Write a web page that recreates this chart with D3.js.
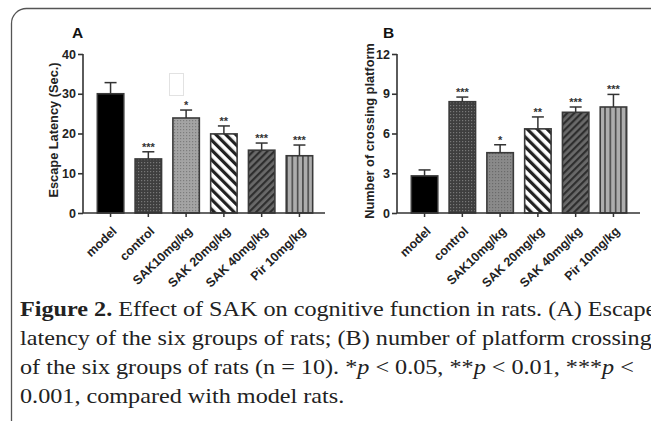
<!DOCTYPE html>
<html>
<head>
<meta charset="utf-8">
<script src="https://cdn.jsdelivr.net/npm/d3@7"></script>
<style>
  body { margin: 0; background: #fff; }
  svg { display: block; }
  .axis text { font-family: Arial, "Liberation Sans", sans-serif; font-weight: bold; fill: #222; }
</style>
</head>
<body>
<svg id="fig" width="651" height="421"></svg>
<script>
// Groups shared by both panels
const groups = ["model", "control", "SAK10mg/kg", "SAK 20mg/kg", "SAK 40mg/kg", "Pir 10mg/kg"];

// Panel A: escape latency (sec.)
const latencyMean = [30, 13.6, 23.9, 19.9, 15.8, 14.4];
const latencyErr = [2.8, 1.8, 2.0, 2.0, 1.8, 2.7];
const latencySig = ["", "***", "*", "**", "***", "***"];
const latencyTicks = [0, 10, 20, 30, 40];

// Panel B: number of platform crossings
const crossMean = [2.8, 8.4, 4.55, 6.35, 7.6, 8.0];
const crossErr = [0.45, 0.35, 0.6, 0.9, 0.4, 0.95];
const crossSig = ["", "***", "*", "**", "***", "***"];
const crossTicks = [0, 3, 6, 9, 12];

const captionLines = [
    [["Figure 2.", true], [" Effect of SAK on cognitive function in rats. (A) Escape", false]],
    [["latency of the six groups of rats; (B) number of platform crossings", false]],
    [["of the six groups of rats (n = 10). *", false], ["p", "i"], [" < 0.05, **", false], ["p", "i"], [" < 0.01, ***", false], ["p", "i"], [" <", false]],
    [["0.001, compared with model rats.", false]]
];

const svg = d3.select('#fig');
svg.append('rect').attr('width', 651).attr('height', 421).attr('fill', '#fff');

// Frame round the figure
svg.append('rect')
    .attr('x', 11.5).attr('y', 8.5)
    .attr('width', 700).attr('height', 440)
    .attr('rx', 15)
    .attr('fill', 'none')
    .attr('stroke', '#555')
    .attr('stroke-width', 1.3);

// Fill patterns
const defs = svg.append('defs');

function dotPattern(id, base, dot) {
    const p = defs.append('pattern').attr('id', id)
        .attr('patternUnits', 'userSpaceOnUse').attr('width', 3).attr('height', 3);
    p.append('rect').attr('width', 3).attr('height', 3).attr('fill', base);
    p.append('rect').attr('x', 0).attr('y', 0).attr('width', 1.2).attr('height', 1.2).attr('fill', dot);
}
function stripePattern(id, base, line, size, lw, angle) {
    const p = defs.append('pattern').attr('id', id)
        .attr('patternUnits', 'userSpaceOnUse').attr('width', size).attr('height', size)
        .attr('patternTransform', `rotate(${angle})`);
    p.append('rect').attr('width', size).attr('height', size).attr('fill', base);
    p.append('rect').attr('x', 0).attr('y', 0).attr('width', lw).attr('height', size).attr('fill', line);
}
dotPattern('dotsDark', '#3e3e3e', '#777');
dotPattern('dotsLightA', '#a4a4a4', '#7d7d7d');
dotPattern('dotsLightB', '#8a8a8a', '#6a6a6a');
stripePattern('diagBack', '#fff', '#222', 7, 3.2, -45);
stripePattern('diagFwd', '#6a6a6a', '#2e2e2e', 5, 2.2, 45);
stripePattern('vert', '#adadad', '#4a4a4a', 5.3, 1.6, 0);

const fillsA = ['#000', 'url(#dotsDark)', 'url(#dotsLightA)', 'url(#diagBack)', 'url(#diagFwd)', 'url(#vert)'];
const fillsB = ['#000', 'url(#dotsDark)', 'url(#dotsLightB)', 'url(#diagBack)', 'url(#diagFwd)', 'url(#vert)'];

function drawPanel(opt) {
    const g = svg.append('g');
    const x = d3.scaleBand().domain(groups).range(opt.xRange).paddingInner(0.3).paddingOuter(0.3);
    const y = d3.scaleLinear().domain([0, opt.ticks[opt.ticks.length - 1]]).range([213, 54]);

    const rows = groups.map((name, i) => ({ name, mean: opt.mean[i], err: opt.err[i], sig: opt.sig[i], fill: opt.fills[i] }));

    // bars
    g.selectAll('rect.bar').data(rows).enter().append('rect')
        .attr('class', 'bar')
        .attr('x', d => x(d.name))
        .attr('y', d => y(d.mean))
        .attr('width', x.bandwidth())
        .attr('height', d => y(0) - y(d.mean))
        .attr('fill', d => d.fill)
        .attr('stroke', '#3a3a3a')
        .attr('stroke-width', 1.6);

    // error bars
    const cx = d => x(d.name) + x.bandwidth() / 2;
    g.selectAll('line.err').data(rows).enter().append('line')
        .attr('x1', cx).attr('x2', cx)
        .attr('y1', d => y(d.mean)).attr('y2', d => y(d.mean + d.err))
        .attr('stroke', '#333').attr('stroke-width', 1.5);
    g.selectAll('line.cap').data(rows).enter().append('line')
        .attr('x1', d => cx(d) - 6).attr('x2', d => cx(d) + 6)
        .attr('y1', d => y(d.mean + d.err)).attr('y2', d => y(d.mean + d.err))
        .attr('stroke', '#333').attr('stroke-width', 1.5);

    // significance stars
    g.selectAll('text.sig').data(rows).enter().append('text')
        .attr('x', cx)
        .attr('y', d => y(d.mean + d.err) - 1)
        .attr('text-anchor', 'middle')
        .attr('font-family', 'Arial, sans-serif')
        .attr('font-weight', 'bold')
        .attr('font-size', 11)
        .attr('fill', '#333')
        .text(d => d.sig);

    // y axis
    const yAxis = g.append('g').attr('class', 'axis')
        .attr('transform', `translate(${opt.axisX},0)`)
        .call(d3.axisLeft(y).tickValues(opt.ticks).tickSize(5).tickPadding(2));
    yAxis.select('.domain').attr('stroke', '#333').attr('stroke-width', 1.6).attr('d', `M0,${y(opt.ticks[opt.ticks.length - 1])}V${y(0)}`);
    yAxis.selectAll('.tick line').attr('stroke', '#333').attr('stroke-width', 1.6);
    yAxis.selectAll('.tick text').attr('font-size', 12.5);

    // x axis
    const xAxis = g.append('g').attr('class', 'axis')
        .attr('transform', `translate(0,${y(0)})`)
        .call(d3.axisBottom(x).tickSize(4));
    xAxis.select('.domain').attr('stroke', '#333').attr('stroke-width', 1.6)
        .attr('d', `M${opt.axisX},0H${opt.axisEnd}`);
    xAxis.selectAll('.tick line').attr('stroke', '#333').attr('stroke-width', 1.5);
    xAxis.selectAll('.tick text')
        .attr('font-size', 12.5)
        .attr('text-anchor', 'end')
        .attr('x', 0).attr('y', 0).attr('dy', 0)
        .attr('transform', 'translate(7,19) rotate(-44)');

    // y label
    g.append('text')
        .attr('transform', `translate(${opt.labelX},${opt.labelY}) rotate(-90)`)
        .attr('text-anchor', 'middle')
        .attr('font-family', 'Arial, sans-serif')
        .attr('font-weight', 'bold')
        .attr('font-size', 12.8)
        .attr('fill', '#222')
        .text(opt.label);

    // panel letter
    g.append('text')
        .attr('x', opt.letterX).attr('y', 38)
        .attr('font-family', 'Arial, sans-serif')
        .attr('font-weight', 'bold')
        .attr('font-size', 15.5)
        .attr('fill', '#111')
        .text(opt.letter);
}

drawPanel({
    mean: latencyMean, err: latencyErr, sig: latencySig, ticks: latencyTicks, fills: fillsA,
    xRange: [86, 324], axisX: 83, axisEnd: 325,
    label: 'Escape Latency (Sec.)', labelX: 58, labelY: 130,
    letter: 'A', letterX: 72
});
drawPanel({
    mean: crossMean, err: crossErr, sig: crossSig, ticks: crossTicks, fills: fillsB,
    xRange: [400, 638], axisX: 397, axisEnd: 640,
    label: 'Number of crossing platform', labelX: 374, labelY: 131,
    letter: 'B', letterX: 383
});

// faint scan artefact box in panel A
svg.append('rect')
    .attr('x', 169.5).attr('y', 73.5).attr('width', 14).attr('height', 22)
    .attr('fill', '#fff').attr('stroke', '#e2e2e2').attr('stroke-width', 1);

// caption (the source figure is stretched sideways a little)
const cap = svg.append('g')
    .attr('transform', 'translate(20,0) scale(1.18,1)')
    .attr('font-family', '"Liberation Serif", "Times New Roman", serif')
    .attr('font-size', 20.5).attr('fill', '#222');
captionLines.forEach((parts, i) => {
    const t = cap.append('text').attr('x', 0).attr('y', 316 + i * 29);
    parts.forEach(([s, style]) => {
        const sp = t.append('tspan').text(s);
        if (style === true) sp.attr('font-weight', 'bold');
        if (style === 'i') sp.attr('font-style', 'italic');
    });
});
</script>
</body>
</html>
